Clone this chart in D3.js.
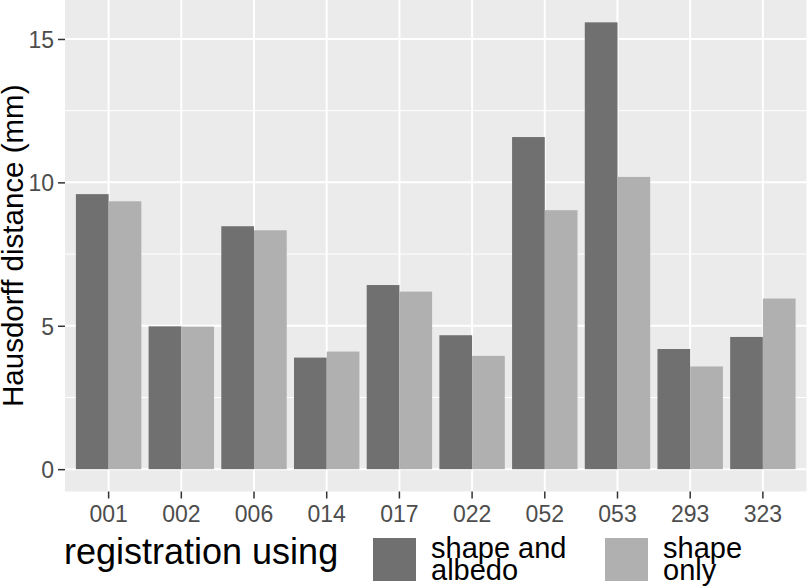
<!DOCTYPE html>
<html>
<head>
<meta charset="utf-8">
<script src="https://cdn.jsdelivr.net/npm/d3@7"></script>
<style>
  body { margin: 0; background: #fff; }
  text { font-family: "Liberation Sans", Arial, sans-serif; }
</style>
</head>
<body>
<svg id="vis"></svg>
<script>
const width = 807;
const height = 587;

// data
const subjects = ["001", "002", "006", "014", "017", "022", "052", "053", "293", "323"];
const methods = ["shape and albedo", "shape only"];
const shapeAlbedo = [9.59, 4.98, 8.47, 3.89, 6.42, 4.67, 11.58, 15.58, 4.19, 4.61];
const shapeOnly = [9.34, 4.97, 8.33, 4.10, 6.19, 3.95, 9.03, 10.19, 3.58, 5.95];
const majorTicks = [0, 5, 10, 15];
const minorTicks = [2.5, 7.5, 12.5];
const legendLabels = [["shape and", "albedo"], ["shape", "only"]];

const fills = ["#707070", "#b0b0b0"];
const panel = { left: 65, right: 806.5, top: 0, bottom: 491.5 };

const svg = d3.select("#vis").attr("width", width).attr("height", height);

const rows = [];
subjects.forEach((s, i) => {
  rows.push({ subject: s, method: methods[0], value: shapeAlbedo[i] });
  rows.push({ subject: s, method: methods[1], value: shapeOnly[i] });
});

const maxVal = d3.max(rows, d => d.value);
const pad = maxVal * 0.05;

// ggplot style discrete expansion: 0.6 of a step from edge to first centre
const x = d3.scaleBand()
  .domain(subjects)
  .range([panel.left, panel.right])
  .paddingInner(0)
  .paddingOuter(0.1);

const y = d3.scaleLinear()
  .domain([0 - pad, maxVal + pad])
  .range([panel.bottom, panel.top]);

const colour = d3.scaleOrdinal(methods, fills);

// panel background
svg.append("rect")
  .attr("x", panel.left)
  .attr("y", panel.top)
  .attr("width", panel.right - panel.left)
  .attr("height", panel.bottom - panel.top)
  .attr("fill", "#ebebeb");

// grid
svg.selectAll("line.minor")
  .data(minorTicks)
  .join("line")
  .attr("class", "minor")
  .attr("x1", panel.left).attr("x2", panel.right)
  .attr("y1", d => y(d)).attr("y2", d => y(d))
  .attr("stroke", "#fff").attr("stroke-width", 1);

svg.selectAll("line.major")
  .data(majorTicks)
  .join("line")
  .attr("class", "major")
  .attr("x1", panel.left).attr("x2", panel.right)
  .attr("y1", d => y(d)).attr("y2", d => y(d))
  .attr("stroke", "#fff").attr("stroke-width", 2);

svg.selectAll("line.vgrid")
  .data(subjects)
  .join("line")
  .attr("class", "vgrid")
  .attr("x1", d => x(d) + x.bandwidth() / 2).attr("x2", d => x(d) + x.bandwidth() / 2)
  .attr("y1", panel.top).attr("y2", panel.bottom)
  .attr("stroke", "#fff").attr("stroke-width", 2);

// bars, dodged
const inner = d3.scaleBand().domain(methods).range([0, x.bandwidth() * 0.9]);

svg.selectAll("rect.bar")
  .data(rows)
  .join("rect")
  .attr("class", "bar")
  .attr("x", d => x(d.subject) + x.bandwidth() * 0.05 + inner(d.method))
  .attr("width", inner.bandwidth())
  .attr("y", d => y(d.value))
  .attr("height", d => y(0) - y(d.value))
  .attr("fill", d => colour(d.method));

// y axis
const yAxis = svg.append("g")
  .attr("transform", `translate(${panel.left},0)`)
  .call(d3.axisLeft(y).tickValues(majorTicks).tickSize(7).tickPadding(4).tickFormat(d3.format("d")));
yAxis.select(".domain").remove();
yAxis.selectAll(".tick line").attr("stroke", "#333").attr("stroke-width", 1.5);
yAxis.selectAll(".tick text")
  .attr("fill", "#4d4d4d")
  .style("font-size", "23px")
  .attr("dy", "0.36em");

// x axis
const xAxis = svg.append("g")
  .attr("transform", `translate(0,${panel.bottom})`)
  .call(d3.axisBottom(x).tickSize(7).tickPadding(5));
xAxis.select(".domain").remove();
xAxis.selectAll(".tick line").attr("stroke", "#333").attr("stroke-width", 1.5);
xAxis.selectAll(".tick text")
  .attr("fill", "#4d4d4d")
  .style("font-size", "23px")
  .attr("y", 0)
  .attr("dy", 0)
  .attr("transform", "translate(0,30.5)");

// y title
svg.append("text")
  .attr("transform", `translate(23,${(panel.top + panel.bottom) / 2}) rotate(-90)`)
  .attr("text-anchor", "middle")
  .style("font-size", "29.5px")
  .attr("fill", "#000")
  .text("Hausdorff distance (mm)");

// legend
svg.append("text")
  .attr("x", 64)
  .attr("y", 564)
  .style("font-size", "36px")
  .attr("fill", "#000")
  .text("registration using");

const keyX = [373, 605];
const legend = svg.selectAll("g.key")
  .data(methods)
  .join("g")
  .attr("class", "key")
  .attr("transform", (d, i) => `translate(${keyX[i]},538)`);

legend.append("rect")
  .attr("width", 43)
  .attr("height", 43)
  .attr("fill", d => colour(d));

legend.append("text")
  .attr("x", 58)
  .attr("y", 20)
  .style("font-size", "29px")
  .attr("fill", "#000")
  .selectAll("tspan")
  .data((d, i) => legendLabels[i])
  .join("tspan")
  .attr("x", 58)
  .attr("dy", (d, i) => i === 0 ? 0 : 22)
  .text(d => d);
</script>
</body>
</html>
